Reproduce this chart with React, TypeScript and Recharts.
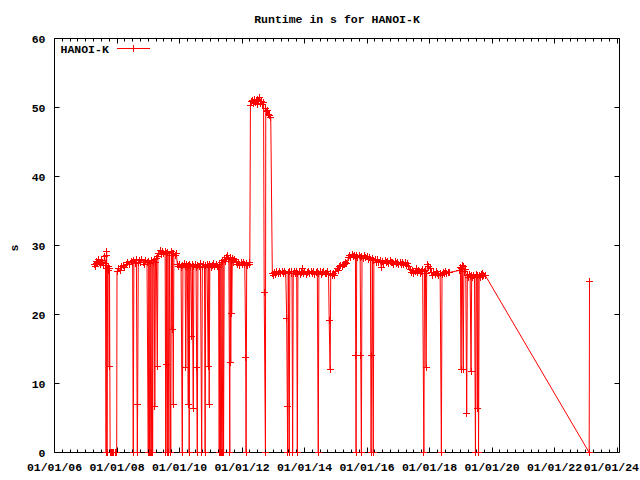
import React from "react";
import { LineChart, Line, XAxis, YAxis } from "recharts";

const W = 640;
const H = 480;
const RED = "#ff0000";
const FONT = '"Liberation Mono", "DejaVu Sans Mono", monospace';

// [decimal year, runtime in s]
const samples2007to2009: [number, number][] = [
  [2007.27, 27.3], [2007.30, 27.0], [2007.33, 27.4], [2007.36, 27.7], [2007.39, 27.5], [2007.42, 27.9],
  [2007.45, 27.6], [2007.48, 27.2], [2007.51, 27.8], [2007.54, 27.5], [2007.57, 27.1], [2007.60, 28.4],
  [2007.63, 27.4], [2007.65, 0], [2007.66, 28.6], [2007.67, 29.2], [2007.68, 0], [2007.70, 26.6],
  [2007.72, 26.9], [2007.74, 26.4], [2007.75, 12.4], [2007.76, 26.7], [2007.78, 0], [2007.82, 0],
  [2007.86, 0], [2007.90, 0], [2007.94, 0], [2007.99, 0],
  [2008.00, 26.3], [2008.05, 26.6], [2008.10, 26.4], [2008.15, 26.9], [2008.20, 27.1], [2008.25, 26.8],
  [2008.30, 27.3], [2008.35, 27.5], [2008.40, 27.2], [2008.45, 27.7], [2008.50, 27.5], [2008.52, 0],
  [2008.54, 27.8], [2008.58, 27.4], [2008.62, 27.9], [2008.65, 0], [2008.66, 6.9], [2008.68, 27.6],
  [2008.72, 27.8], [2008.76, 27.5], [2008.80, 27.9], [2008.84, 27.6], [2008.88, 27.3], [2008.92, 27.8],
  [2008.96, 27.5], [2009.00, 0], [2009.02, 27.7], [2009.04, 0], [2009.06, 27.4], [2009.08, 0],
  [2009.10, 0], [2009.12, 27.8], [2009.14, 0], [2009.16, 27.5], [2009.19, 27.9], [2009.21, 6.6],
  [2009.23, 27.6], [2009.26, 28.1], [2009.29, 12.4], [2009.31, 28.4],
  [2009.34, 28.9], [2009.38, 29.3], [2009.42, 28.7], [2009.46, 29.1], [2009.50, 28.8], [2009.54, 29.2],
  [2009.56, 0], [2009.58, 28.9], [2009.59, 12.8], [2009.61, 0], [2009.63, 29.0], [2009.66, 0],
  [2009.68, 28.6], [2009.72, 0], [2009.74, 29.1], [2009.76, 17.8], [2009.78, 28.8], [2009.80, 7.0],
  [2009.82, 28.9], [2009.86, 28.5], [2009.90, 28.8],
];

const samples2010to2012: [number, number][] = [
  [2009.93, 27.3], [2009.97, 26.9], [2010.01, 27.2], [2010.05, 26.8], [2010.09, 0], [2010.11, 27.1],
  [2010.15, 27.4], [2010.18, 26.9], [2010.20, 12.3], [2010.22, 27.2], [2010.25, 26.8], [2010.28, 7.0],
  [2010.30, 27.1], [2010.31, 0], [2010.33, 27.3], [2010.36, 26.9], [2010.39, 16.8], [2010.41, 27.2],
  [2010.44, 6.4], [2010.46, 27.0], [2010.50, 27.3], [2010.53, 26.8], [2010.55, 12.3], [2010.57, 0],
  [2010.59, 27.1], [2010.63, 26.9], [2010.67, 27.4], [2010.71, 0], [2010.73, 27.0], [2010.77, 27.2],
  [2010.80, 26.8], [2010.82, 0], [2010.84, 27.1], [2010.88, 27.3], [2010.92, 12.4], [2010.94, 26.9],
  [2010.95, 7.0], [2010.97, 27.2], [2011.01, 26.8], [2011.05, 27.1], [2011.09, 27.4], [2011.13, 26.9],
  [2011.17, 27.2], [2011.21, 27.0], [2011.25, 26.8],
  [2011.27, 0], [2011.29, 27.3], [2011.31, 0], [2011.33, 27.6], [2011.35, 0], [2011.37, 0],
  [2011.39, 27.8], [2011.41, 0], [2011.43, 28.0], [2011.47, 27.7], [2011.51, 28.3], [2011.55, 28.6],
  [2011.58, 27.9], [2011.61, 0], [2011.62, 28.2], [2011.64, 13.1], [2011.66, 27.8], [2011.67, 20.2],
  [2011.69, 28.1], [2011.73, 27.6], [2011.77, 28.0], [2011.81, 27.7], [2011.85, 27.3], [2011.89, 27.6],
  [2011.93, 27.1], [2011.97, 27.5], [2012.01, 27.2], [2012.05, 27.6], [2012.09, 27.3], [2012.12, 13.7],
  [2012.13, 0], [2012.15, 27.4], [2012.19, 27.1], [2012.23, 27.5], [2012.25, 27.3],
  [2012.27, 50.3], [2012.30, 50.8], [2012.33, 51.0], [2012.36, 50.6], [2012.39, 51.2], [2012.42, 50.7],
  [2012.45, 51.0], [2012.48, 50.5], [2012.51, 51.1], [2012.54, 50.8], [2012.57, 51.4], [2012.60, 50.6],
  [2012.63, 50.9], [2012.66, 50.4], [2012.69, 50.7], [2012.71, 23.2], [2012.75, 0], [2012.76, 49.8],
  [2012.79, 49.4], [2012.82, 49.6], [2012.85, 49.0], [2012.88, 48.8], [2012.92, 48.6], [2012.97, 26.0],
];

const samples2013to2015: [number, number][] = [
  [2013.00, 25.7], [2013.04, 26.1], [2013.08, 25.8], [2013.12, 26.2], [2013.16, 25.9], [2013.20, 26.3],
  [2013.24, 25.9], [2013.28, 26.2], [2013.32, 26.0], [2013.36, 26.3], [2013.40, 25.9], [2013.43, 19.4],
  [2013.45, 6.6], [2013.46, 0], [2013.48, 26.1], [2013.51, 0], [2013.53, 26.3], [2013.57, 25.9],
  [2013.60, 26.2], [2013.62, 0], [2013.64, 26.0], [2013.68, 26.3], [2013.72, 25.9], [2013.75, 26.2],
  [2013.77, 0], [2013.79, 26.0], [2013.83, 26.3], [2013.87, 25.8], [2013.91, 26.1], [2013.94, 26.6],
  [2013.97, 25.9], [2014.01, 26.2], [2014.05, 25.8], [2014.09, 26.1], [2014.13, 26.3], [2014.17, 25.9],
  [2014.21, 26.2], [2014.25, 26.0], [2014.29, 26.3], [2014.33, 25.8], [2014.37, 26.1], [2014.41, 26.2],
  [2014.44, 0], [2014.46, 25.9], [2014.50, 26.2], [2014.54, 25.8], [2014.58, 26.1], [2014.62, 26.3],
  [2014.66, 25.9], [2014.70, 26.0], [2014.74, 26.2], [2014.77, 25.8], [2014.79, 19.1], [2014.82, 12.1],
  [2014.84, 25.9], [2014.88, 25.6], [2014.92, 26.0], [2014.96, 25.7], [2015.00, 26.3], [2015.04, 26.6],
  [2015.08, 26.4], [2015.12, 26.9], [2015.16, 27.1], [2015.20, 26.9], [2015.24, 27.3], [2015.28, 27.2],
  [2015.32, 27.6], [2015.36, 27.4],
  [2015.40, 28.2], [2015.44, 28.6], [2015.48, 28.3], [2015.52, 28.7], [2015.56, 28.4], [2015.60, 28.6],
  [2015.63, 28.2], [2015.64, 14.1], [2015.65, 0], [2015.67, 28.5], [2015.71, 28.2], [2015.75, 28.6],
  [2015.78, 28.3], [2015.80, 14.1], [2015.82, 0], [2015.84, 28.4], [2015.88, 28.1], [2015.92, 28.5],
  [2015.96, 28.2],
];

const samples2016to2019: [number, number][] = [
  [2016.00, 28.4], [2016.04, 28.0], [2016.08, 28.3], [2016.11, 27.9], [2016.13, 0], [2016.15, 14.0],
  [2016.17, 28.1], [2016.20, 0], [2016.22, 27.8], [2016.26, 28.0], [2016.30, 27.6], [2016.34, 27.9],
  [2016.38, 27.5], [2016.42, 27.8], [2016.46, 26.8], [2016.50, 27.7], [2016.54, 27.4], [2016.58, 27.8],
  [2016.62, 27.5], [2016.66, 27.7], [2016.70, 27.4], [2016.74, 27.8], [2016.78, 27.5], [2016.82, 27.6],
  [2016.86, 27.3], [2016.90, 27.7], [2016.94, 27.4], [2016.98, 27.6], [2017.02, 27.3], [2017.06, 27.5],
  [2017.10, 27.2], [2017.14, 27.6], [2017.18, 27.3], [2017.22, 27.5], [2017.26, 27.1], [2017.30, 27.4],
  [2017.34, 26.9], [2017.38, 26.5], [2017.42, 26.1], [2017.46, 26.4], [2017.50, 26.0], [2017.54, 26.3],
  [2017.58, 26.6], [2017.62, 26.1], [2017.66, 26.4], [2017.70, 26.0], [2017.74, 26.3], [2017.78, 26.5],
  [2017.82, 0], [2017.84, 26.2], [2017.87, 26.4], [2017.89, 12.3], [2017.91, 26.0], [2017.94, 27.2],
  [2017.98, 27.0], [2018.02, 26.6], [2018.06, 26.1], [2018.10, 25.7], [2018.14, 26.1], [2018.18, 25.8],
  [2018.22, 26.2], [2018.26, 25.9], [2018.30, 25.6], [2018.34, 26.0], [2018.38, 0], [2018.40, 25.8],
  [2018.44, 26.1], [2018.48, 25.9], [2018.52, 26.2], [2018.56, 26.0], [2018.60, 26.1], [2018.64, 26.1],
  [2018.97, 26.4], [2018.99, 26.8], [2019.01, 12.1], [2019.03, 26.6], [2019.05, 27.1], [2019.08, 12.1],
  [2019.10, 26.9], [2019.13, 26.3], [2019.16, 26.5], [2019.19, 5.7], [2019.21, 25.7], [2019.24, 25.4],
  [2019.27, 25.8], [2019.30, 25.5], [2019.33, 11.7], [2019.35, 25.6], [2019.38, 25.3], [2019.41, 25.7],
  [2019.44, 25.4], [2019.47, 0], [2019.49, 25.8], [2019.51, 25.5], [2019.53, 6.4], [2019.55, 25.6],
  [2019.57, 0], [2019.59, 25.7], [2019.62, 25.4], [2019.65, 25.8], [2019.68, 25.5], [2019.71, 25.9],
  [2019.74, 25.6], [2019.78, 25.7],
];

const samples2023: [number, number][] = [
  [2023.11, 0], [2023.12, 24.8],
];

const yearTicks = [2006, 2008, 2010, 2012, 2014, 2016, 2018, 2020, 2022, 2024];
const yearTickLabels = ["01/01/06", "01/01/08", "01/01/10", "01/01/12", "01/01/14", "01/01/16", "01/01/18", "01/01/20", "01/01/22", "01/01/24"];
const secondTicks = [0, 10, 20, 30, 40, 50, 60];

const xDomain = [2006, 2024.08];

// quarter-year minor tics between the labelled ones
const quarterTicks: number[] = [];
for (let q = 0; q <= 72; q++) quarterTicks.push(2006 + q * 0.25);

const runtimeData = [
  ...samples2007to2009,
  ...samples2010to2012,
  ...samples2013to2015,
  ...samples2016to2019,
  ...samples2023,
].map(([year, seconds]) => ({ year, seconds }));

const crisp = (v: number) => Math.round(v - 0.5) + 0.5;

const labelStyle = { fontFamily: FONT, fontSize: 11.5, fontWeight: 700, fill: "#000" } as const;
const CHAR_W = 6.9;

function XTick(props: any) {
  const { x, y, payload, top } = props;
  const i = yearTicks.indexOf(payload.value);
  const len = i >= 0 ? 5 : 3;
  const px = crisp(x);
  let label = null;
  if (!top && i >= 0) {
    const text = yearTickLabels[i];
    // keep the last label inside the picture
    const tooWide = x + (text.length * CHAR_W) / 2 > W - 1;
    label = (
      <text x={tooWide ? W - 1 : x} y={y + 18.5} textAnchor={tooWide ? "end" : "middle"} {...labelStyle}>
        {text}
      </text>
    );
  }
  return (
    <g>
      <line x1={px} x2={px} y1={y} y2={top ? y + len : y - len} stroke="#000" />
      {label}
    </g>
  );
}

function YTick(props: any) {
  const { x, y, payload, right } = props;
  const py = crisp(y);
  return (
    <g>
      <line x1={x} x2={right ? x - 5 : x + 5} y1={py} y2={py} stroke="#000" />
      {!right && (
        <text x={x - 9} y={y + 4.5} textAnchor="end" {...labelStyle}>
          {payload.value}
        </text>
      )}
    </g>
  );
}

function PlusDot(props: any) {
  const { cx, cy, index } = props;
  if (cx == null || cy == null) return <g key={`p-${index}`} />;
  const x = crisp(cx);
  const y = crisp(cy);
  return (
    <path
      key={`p-${index}`}
      d={`M${x - 3.5},${y}h7M${x},${y - 3.5}v7`}
      stroke={RED}
      strokeWidth={1}
      fill="none"
    />
  );
}

export default function App() {
  return (
    <div style={{ position: "absolute", left: 0, top: 0, width: W, height: H, background: "#fff" }}>
      <LineChart
        width={W}
        height={H}
        data={runtimeData}
        margin={{ top: 37.5, right: 19.5, bottom: 26.5, left: 53.5 }}
      >
        <XAxis
          xAxisId="bottom"
          dataKey="year"
          type="number"
          domain={xDomain}
          ticks={quarterTicks}
          interval={0}
          height={1}
          tickSize={0}
          tickMargin={0}
          tickLine={false}
          axisLine={{ stroke: "#000" }}
          tick={(p: any) => <XTick {...p} />}
        />
        <XAxis
          xAxisId="top"
          orientation="top"
          dataKey="year"
          type="number"
          domain={xDomain}
          allowDataOverflow
          ticks={quarterTicks}
          interval={0}
          height={1}
          tickSize={0}
          tickMargin={0}
          tickLine={false}
          axisLine={{ stroke: "#000" }}
          tick={(p: any) => <XTick {...p} top />}
        />
        <YAxis
          yAxisId="left"
          type="number"
          domain={[0, 60]}
          ticks={secondTicks}
          interval={0}
          width={1}
          tickSize={0}
          tickMargin={0}
          tickLine={false}
          axisLine={{ stroke: "#000" }}
          tick={(p: any) => <YTick {...p} />}
        />
        <YAxis
          yAxisId="right"
          orientation="right"
          type="number"
          domain={[0, 60]}
          allowDataOverflow
          ticks={secondTicks}
          interval={0}
          width={1}
          tickSize={0}
          tickMargin={0}
          tickLine={false}
          axisLine={{ stroke: "#000" }}
          tick={(p: any) => <YTick {...p} right />}
        />
        <Line
          xAxisId="bottom"
          yAxisId="left"
          type="linear"
          dataKey="seconds"
          stroke={RED}
          strokeWidth={1}
          dot={(p: any) => <PlusDot key={`p-${p.index}`} {...p} />}
          activeDot={false}
          isAnimationActive={false}
        />
      </LineChart>
      <svg
        width={W}
        height={H}
        style={{ position: "absolute", left: 0, top: 0, pointerEvents: "none" }}
      >
        <text x={337} y={23} textAnchor="middle" {...labelStyle}>
          Runtime in s for HANOI-K
        </text>
        <text x={18} y={248} textAnchor="middle" transform="rotate(-90 18 248)" {...labelStyle}>
          s
        </text>
        <text x={60.5} y={53} {...labelStyle}>
          HANOI-K
        </text>
        <line x1={117} x2={150} y1={48.5} y2={48.5} stroke={RED} />
        <line x1={133.5} x2={133.5} y1={45} y2={52} stroke={RED} />
      </svg>
    </div>
  );
}
